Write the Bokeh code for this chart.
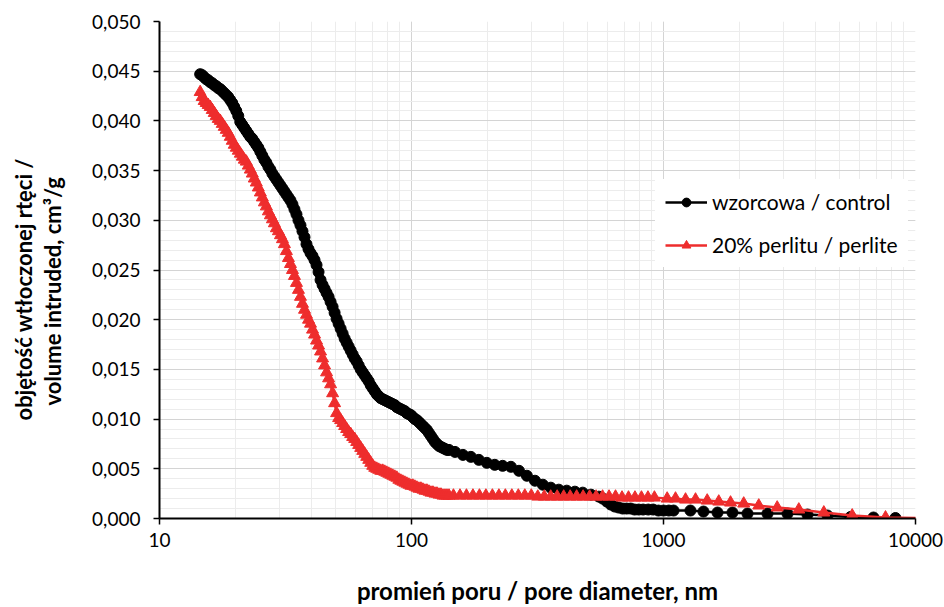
from bokeh.plotting import figure
from bokeh.models import FixedTicker, CustomJSTickFormatter, Range1d, Legend, LegendItem, Title
from bokeh.embed import file_html
from bokeh.resources import INLINE

# ---------------- data ----------------
# pore diameters (nm) of the fine measurement steps shared by both samples
diam_fine = [14.50, 14.77, 15.04, 15.32, 15.60, 15.89, 16.19, 16.49, 16.79, 17.10, 17.42, 17.74, 18.07, 18.40,
             18.74, 19.09, 19.44, 19.80, 20.17, 20.54, 20.92, 21.31, 21.70, 22.10, 22.51, 22.93, 23.35, 23.78,
             24.22, 24.67, 25.13, 25.59, 26.07, 26.55, 27.04, 27.54, 28.05, 28.57, 29.10, 29.64, 30.19, 30.75,
             31.31, 31.89, 32.48, 33.09, 33.70, 34.32, 34.96, 35.60, 36.26, 36.93, 37.62, 38.31, 39.02, 39.74,
             40.48, 41.23, 41.99, 42.77, 43.56, 44.37, 45.19, 46.02, 46.88, 47.74, 48.63, 49.53, 50.44, 51.38,
             52.33, 53.30, 54.28, 55.29, 56.31, 57.35, 58.42, 59.50, 60.60, 61.72, 62.86, 64.03, 65.21, 66.42,
             67.65, 68.90, 70.17, 71.47, 72.80, 74.14, 75.52, 76.91, 78.34, 79.79, 81.26, 82.77, 84.30, 85.86,
             87.45, 89.07, 90.71, 92.39, 94.10, 95.84, 97.62, 99.43, 101.27, 103.14, 105.05, 107.00, 108.98,
             110.99, 113.05, 115.14, 117.27, 119.44, 121.65, 123.90, 126.19, 128.53, 130.91, 133.33, 135.80,
             138.31, 140.87]

control_fine = [0.0447, 0.0446, 0.0444, 0.0442, 0.0441, 0.0439, 0.0438, 0.0436, 0.0435, 0.0433, 0.0432, 0.0430,
                0.0428, 0.0426, 0.0424, 0.0421, 0.0418, 0.0414, 0.0410, 0.0405, 0.0399, 0.0396, 0.0393, 0.0390,
                0.0387, 0.0384, 0.0382, 0.0379, 0.0376, 0.0373, 0.0369, 0.0365, 0.0361, 0.0358, 0.0354, 0.0351,
                0.0347, 0.0344, 0.0341, 0.0338, 0.0335, 0.0332, 0.0329, 0.0326, 0.0323, 0.0320, 0.0316, 0.0311,
                0.0306, 0.0300, 0.0295, 0.0289, 0.0283, 0.0276, 0.0271, 0.0267, 0.0264, 0.0260, 0.0255, 0.0248,
                0.0240, 0.0235, 0.0231, 0.0227, 0.0223, 0.0218, 0.0213, 0.0207, 0.0201, 0.0196, 0.0191, 0.0186,
                0.0181, 0.0177, 0.0173, 0.0169, 0.0165, 0.0161, 0.0158, 0.0154, 0.0150, 0.0147, 0.0144, 0.0141,
                0.0138, 0.0134, 0.0131, 0.0128, 0.0125, 0.0123, 0.0121, 0.0120, 0.0119, 0.0118, 0.0117, 0.0116,
                0.0115, 0.0114, 0.0112, 0.0111, 0.0110, 0.0109, 0.0108, 0.0106, 0.0105, 0.0104, 0.0102, 0.0100,
                0.0099, 0.0097, 0.0095, 0.0093, 0.0091, 0.0089, 0.0086, 0.0083, 0.0080, 0.0077, 0.0075, 0.0073,
                0.0072, 0.0071, 0.0070, 0.0069, 0.0069]

perlite_fine = [0.0429, 0.0424, 0.0420, 0.0418, 0.0416, 0.0414, 0.0411, 0.0408, 0.0405, 0.0402, 0.0400, 0.0397,
                0.0394, 0.0391, 0.0388, 0.0384, 0.0380, 0.0376, 0.0373, 0.0370, 0.0367, 0.0364, 0.0361, 0.0359,
                0.0355, 0.0351, 0.0347, 0.0342, 0.0338, 0.0333, 0.0328, 0.0323, 0.0318, 0.0314, 0.0309, 0.0305,
                0.0301, 0.0297, 0.0292, 0.0289, 0.0285, 0.0281, 0.0276, 0.0269, 0.0262, 0.0256, 0.0250, 0.0244,
                0.0237, 0.0230, 0.0223, 0.0216, 0.0210, 0.0205, 0.0200, 0.0196, 0.0190, 0.0185, 0.0179, 0.0174,
                0.0168, 0.0161, 0.0154, 0.0147, 0.0141, 0.0135, 0.0126, 0.0116, 0.0106, 0.0101, 0.0099, 0.0096,
                0.0093, 0.0090, 0.0087, 0.0085, 0.0082, 0.0080, 0.0077, 0.0074, 0.0071, 0.0068, 0.0065, 0.0062,
                0.0059, 0.0056, 0.0053, 0.0051, 0.0050, 0.0049, 0.0048, 0.0048, 0.0047, 0.0046, 0.0045, 0.0044,
                0.0043, 0.0042, 0.0041, 0.0039, 0.0038, 0.0037, 0.0036, 0.0035, 0.0034, 0.0033, 0.0033, 0.0032,
                0.0031, 0.0030, 0.0030, 0.0029, 0.0028, 0.0028, 0.0027, 0.0026, 0.0026, 0.0025, 0.0025, 0.0024,
                0.0024, 0.0023, 0.0023, 0.0023, 0.0023]

# coarser steps at larger pores
control_tail_x = [148.8, 160, 172, 185, 199, 214, 230, 248, 267, 287, 309, 332, 357, 384, 413, 445, 478, 515,
                  554, 574, 596, 618, 641, 664, 689, 714, 741, 768, 797, 830, 870, 910, 955, 1000, 1050, 1096,
                  1279, 1441, 1638, 1878, 2154, 2586, 3105, 3727, 4476, 5523, 6812, 8327]
control_tail_y = [0.0067, 0.0064, 0.0062, 0.0059, 0.0056, 0.0054, 0.0053, 0.0052, 0.0048, 0.0043, 0.0038,
                  0.0034, 0.0031, 0.0029, 0.0028, 0.0027, 0.0026, 0.0024, 0.0022, 0.0020, 0.0017, 0.0014,
                  0.0012, 0.0011, 0.0010, 0.0010, 0.0010, 0.0009, 0.0009, 0.0009, 0.0009, 0.0009, 0.0008,
                  0.0008, 0.0008, 0.0008, 0.0008, 0.0007, 0.0006, 0.0006, 0.0005, 0.0005, 0.0005, 0.0004,
                  0.0003, 0.00015, 0.0001, 0.00005]

perlite_tail_x = [146.7, 155.7, 165.2, 175.3, 186, 197.3, 209.4, 222.2, 235.7, 250.1, 265.4, 281.6, 298.8, 317,
                  336.3, 356.8, 378.6, 401.7, 426.2, 452.2, 479.8, 509.1, 540.1, 573.1, 608, 645.1, 684.5,
                  726.2, 770.5, 817.5, 867.4, 920.3, 1034, 1116, 1223, 1340, 1491, 1657, 1845, 2081, 2388,
                  2826, 3443, 4327, 5608, 7603, 12000]
perlite_tail_y = [0.0023, 0.0023, 0.0023, 0.0023, 0.0023, 0.0023, 0.0023, 0.0023, 0.0023, 0.0023, 0.0023,
                  0.0023, 0.0023, 0.0022, 0.0022, 0.0022, 0.0022, 0.0022, 0.0022, 0.0022, 0.0022, 0.0022,
                  0.0022, 0.0022, 0.0022, 0.0022, 0.0021, 0.0021, 0.0021, 0.0021, 0.0021, 0.0021, 0.0020,
                  0.0020, 0.0019, 0.0019, 0.0018, 0.0017, 0.0016, 0.0015, 0.0013, 0.0011, 0.0009, 0.0006,
                  0.0003, 0.0001, 0.0]

series_names = ["wzorcowa / control", "20% perlitu / perlite"]
x_ticks = [10, 100, 1000, 10000]
y_ticks = [0.000, 0.005, 0.010, 0.015, 0.020, 0.025, 0.030, 0.035, 0.040, 0.045, 0.050]
x_title = "promień poru / pore diameter, nm"
y_title_lines = ["objętość wtłoczonej rtęci /", "volume intruded, cm³/g"]

control_x = diam_fine + control_tail_x
control_y = control_fine + control_tail_y
perlite_x = diam_fine + perlite_tail_x
perlite_y = perlite_fine + perlite_tail_y

x_minor = [m * d for d in (10, 100, 1000) for m in range(1, 10)] + [10000]
y_minor = [i / 1000 for i in range(0, 51)]

FONT = "Lato"
BLACK = "#000000"
RED = "#ee2d2d"

p = figure(width=944, height=607, x_axis_type="log",
           x_range=Range1d(10, 10000), y_range=Range1d(0, 0.05),
           output_backend="svg", toolbar_location=None,
           min_border_left=159, min_border_right=29, min_border_top=21, min_border_bottom=89)
p.outline_line_color = None
p.background_fill_color = "white"

# grids
for g, maj, mnr in ((p.xgrid, x_ticks, x_minor), (p.ygrid, y_ticks, y_minor)):
    g.ticker = FixedTicker(ticks=maj, minor_ticks=mnr)
    g.grid_line_color = "#d4d4d4"
    g.grid_line_width = 1
    g.minor_grid_line_color = "#ececec"
    g.minor_grid_line_width = 1

# axes
p.xaxis.ticker = FixedTicker(ticks=x_ticks, minor_ticks=x_minor)
p.yaxis.ticker = FixedTicker(ticks=y_ticks, minor_ticks=y_minor)
p.xaxis.formatter = CustomJSTickFormatter(code="return tick.toFixed(0);")
p.yaxis.formatter = CustomJSTickFormatter(code="return tick.toFixed(3).replace('.', ',');")
for ax in (p.xaxis, p.yaxis):
    ax.axis_line_color = "black"
    ax.axis_line_width = 2
    ax.major_tick_line_color = "black"
    ax.major_tick_line_width = 1.5
    ax.major_tick_out = 6
    ax.major_tick_in = 0
    ax.minor_tick_out = 0
    ax.minor_tick_in = 0
    ax.major_label_text_font = FONT
    ax.major_label_text_font_size = "19px"
    ax.major_label_text_color = "#000000"
p.xaxis.major_label_standoff = 8
p.yaxis.major_label_standoff = 13
p.xaxis.axis_label = x_title
p.xaxis.axis_label_text_font = FONT
p.xaxis.axis_label_text_font_style = "bold"
p.xaxis.axis_label_text_font_size = "24px"
p.xaxis.axis_label_text_color = "#000000"
p.xaxis.axis_label_text_line_height = 0.9
p.xaxis.axis_label_standoff = 26

# blank y-axis label only reserves the gap between tick labels and the title
p.yaxis.axis_label = " "
p.yaxis.axis_label_text_font_size = "10px"
p.yaxis.axis_label_standoff = 9

# y-axis title: two lines as side titles (inner line added first)
for txt, off in ((y_title_lines[1], 113), (y_title_lines[0], 98)):
    t = Title(text=txt, align="left", offset=off, vertical_align="middle", standoff=0,
              text_font=FONT, text_font_style="bold", text_font_size="22px",
              text_color="#000000", text_line_height=1.15)
    p.add_layout(t, "left")

# series
l1 = p.line(control_x, control_y, line_color=BLACK, line_width=2.5)
s1 = p.scatter(control_x, control_y, marker="circle", size=11, fill_color=BLACK, line_color=BLACK)
l2 = p.line(perlite_x, perlite_y, line_color=RED, line_width=2.5)
s2 = p.scatter(perlite_x, perlite_y, marker="triangle", size=12, fill_color=RED, line_color=RED)

legend = Legend(items=[LegendItem(label=series_names[0], renderers=[l1, s1]),
                       LegendItem(label=series_names[1], renderers=[l2, s2])],
                location=(496, 251))
legend.background_fill_color = "white"
legend.background_fill_alpha = 1
legend.border_line_alpha = 0
legend.label_text_font = FONT
legend.label_text_font_size = "21px"
legend.label_text_color = "#000000"
legend.glyph_width = 42
legend.glyph_height = 22
legend.label_height = 22
legend.spacing = 18
legend.padding = 10
legend.margin = 0
legend.label_standoff = 5
p.add_layout(legend, "center")

open("out.html", "w").write(file_html(p, INLINE))
